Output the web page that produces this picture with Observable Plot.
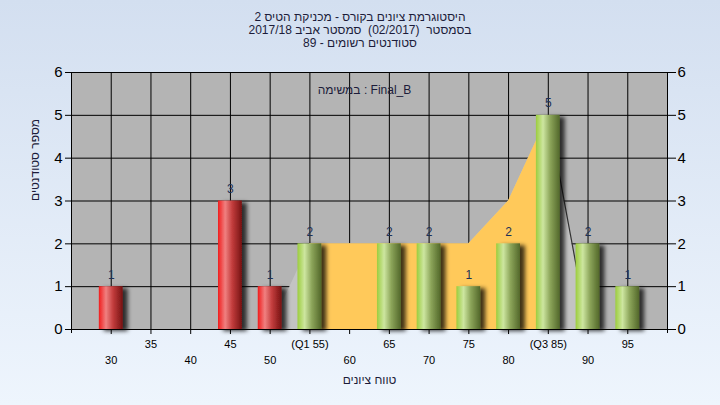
<!DOCTYPE html>
<html><head><meta charset="utf-8">
<script src="https://cdn.jsdelivr.net/npm/d3@7"></script>
<script src="https://cdn.jsdelivr.net/npm/@observablehq/plot@0.6"></script>
<style>
body{margin:0;width:720px;height:405px;overflow:hidden;background:linear-gradient(#d3dff0,#eef5fd);font-family:"Liberation Sans",Arial,sans-serif;}
#title{height:58px;box-sizing:border-box;padding-top:11px;text-align:center;font-size:12px;line-height:13px;color:#1c1c3a;}
#chart svg{display:block;}
</style></head><body>
<div id="title">
  <div dir="rtl">היסטוגרמת ציונים בקורס - מכניקת הטיס 2</div>
  <div dir="rtl">בסמסטר&nbsp; (02/2017)&nbsp; סמסטר אביב 2017/18</div>
  <div dir="rtl">סטודנטים רשומים - 89</div>
</div>
<div id="chart"></div>
<script>
// data
const grades = [30, 45, 50, 55, 65, 70, 75, 80, 85, 90, 95];
const counts = [1, 3, 1, 2, 2, 2, 1, 2, 5, 2, 1];
const passMark = 55;
const q1 = 55, q3 = 85;
const areaX = [50, 55, 60, 65, 70, 75, 80, 85, 90];
const areaY = [0, 2, 2, 2, 2, 2, 3, 5, 0];
const oddTicks = [35, 45, 55, 65, 75, 85, 95];
const evenTicks = [30, 40, 50, 60, 70, 80, 90];
const yTicks = [0, 1, 2, 3, 4, 5, 6];
const taskLabel = "במשימה : Final_B";
const xLabel = "טווח ציונים";
const yLabel = "מספר סטודנטים";

const bars = grades.map((g, i) => ({g, c: counts[i]}));
const area = areaX.map((x, i) => ({x, y: areaY[i]}));
const areaIQR = area.filter(d => d.x >= q1 && d.x <= q3);
const areaTail = area.filter(d => d.x >= q3);
const fmt = v => v === q1 ? `(Q1 ${v})` : v === q3 ? `(Q3 ${v})` : `${v}`;
const hw = 1.5;

const svg = Plot.plot({
  width: 720, height: 347,
  marginTop: 14, marginBottom: 76, marginLeft: 71, marginRight: 53,
  style: {background: "transparent", fontFamily: "'Liberation Sans', Arial, sans-serif", color: "black"},
  x: {domain: [25, 100], axis: null},
  y: {domain: [0, 6], axis: null},
  marks: [
    Plot.frame({fill: "#b4b4b4", stroke: null}),
    Plot.gridX([...evenTicks, ...oddTicks], {stroke: "black", strokeOpacity: 1}),
    Plot.gridY(yTicks, {stroke: "black", strokeOpacity: 1}),
    Plot.areaY(area, {x: "x", y: "y", fill: "#c3c3c3", curve: "linear"}),
    Plot.areaY(areaIQR, {x: "x", y: "y", fill: "#ffc95a", curve: "linear"}),
    Plot.line(areaTail, {x: "x", y: "y", stroke: "#333", strokeWidth: 1.2}),
    Plot.rectY(bars.filter(d => d.g < passMark), {x1: d => d.g - hw, x2: d => d.g + hw, y: "c", fill: "url(#gRed)"}),
    Plot.rectY(bars.filter(d => d.g >= passMark), {x1: d => d.g - hw, x2: d => d.g + hw, y: "c", fill: "url(#gGreen)"}),
    Plot.frame({stroke: "black"}),
    Plot.axisY(yTicks, {anchor: "left", tickSize: 6, tickPadding: 3, fontSize: 15, label: null}),
    Plot.axisY(yTicks, {anchor: "right", tickSize: 8, tickPadding: 2, fontSize: 15, label: null}),
    Plot.axisX(oddTicks, {anchor: "bottom", tickSize: 5, tickPadding: 6, fontSize: 11, tickFormat: fmt, label: null}),
    Plot.axisX(evenTicks, {anchor: "bottom", tickSize: 5, tickPadding: 22, fontSize: 11, tickFormat: fmt, label: null}),
    Plot.axisX([25, 100], {anchor: "bottom", tickSize: 4, tickFormat: () => "", label: null}),
    Plot.text(bars, {x: "g", y: "c", text: d => `${d.c}`, dy: -12, fontSize: 12, fill: "#1d3157"}),
    Plot.text([taskLabel], {frameAnchor: "top", dy: 13, dx: -5, fontSize: 12, fill: "#1c1c3a"}),
    Plot.text([xLabel], {frameAnchor: "bottom", dy: 54, fontSize: 12, fill: "#1c1c3a"}),
    Plot.text([yLabel], {frameAnchor: "left", dx: -36, rotate: -90, fontSize: 12, fill: "#1c1c3a"})
  ]
});

const defs = d3.select(svg).insert("defs", ":first-child");
function grad(id, stops) {
  const g = defs.append("linearGradient").attr("id", id).attr("x1", 0).attr("x2", 1).attr("y1", 0).attr("y2", 0);
  stops.forEach(([o, c]) => g.append("stop").attr("offset", o).attr("stop-color", c));
}
grad("gRed", [[0, "#f01c1c"], [0.3, "#f08080"], [0.6, "#c23c3c"], [1, "#761212"]]);
grad("gGreen", [[0, "#9ccd3e"], [0.3, "#cde6a0"], [0.6, "#8ca55a"], [1, "#52672a"]]);
const f = defs.append("filter").attr("id", "shadow").attr("x", "-0.3").attr("y", "-0.1").attr("width", "1.9").attr("height", "1.3");
f.append("feDropShadow").attr("dx", 5).attr("dy", 2).attr("stdDeviation", 2.2).attr("flood-color", "#000").attr("flood-opacity", 0.75);
d3.select(svg).selectAll("rect").filter(function() {
  const fl = this.getAttribute("fill") || (this.parentNode && this.parentNode.getAttribute("fill")) || "";
  return fl.startsWith("url(");
}).attr("filter", "url(#shadow)");
document.getElementById("chart").appendChild(svg);
</script>
</body></html>
